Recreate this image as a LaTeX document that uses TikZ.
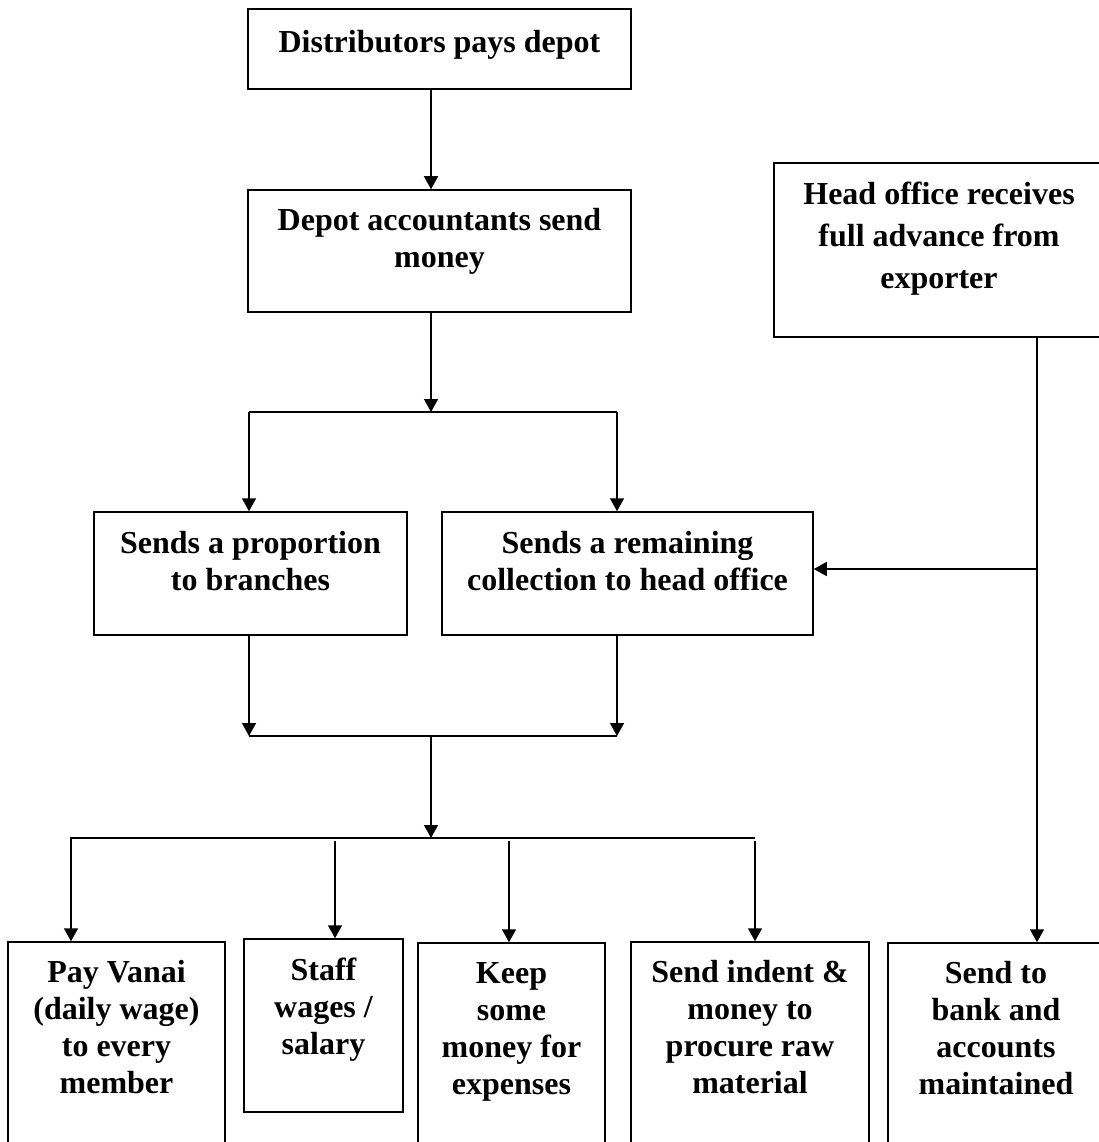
\documentclass[tikz,border=0pt]{standalone}
\usepackage{fontspec}
\setmainfont{Liberation Serif}
\usetikzlibrary{arrows.meta,calc}
\begin{document}
\begin{tikzpicture}[x=1pt,y=-1pt,
  box/.style={draw, rectangle, line width=1.5pt, inner sep=0pt},
  txt/.style={inner sep=0pt, align=center, anchor=north,
    font=\fontsize{32}{37}\selectfont\bfseries},
  txtwide/.style={inner sep=0pt, align=center, anchor=north,
    font=\fontsize{32}{42}\selectfont\bfseries},
  conn/.style={line width=1.5pt},
  arr/.style={line width=1.5pt, -{Triangle[length=13pt,width=14pt]}}]
\useasboundingbox (0,0) rectangle (1099,1142);

% boxes
\node[box, minimum width=383pt, minimum height=80pt]  (b1) at (439.5,49) {};
\node[box, minimum width=383pt, minimum height=122pt] (b2) at (439.5,251) {};
\node[box, minimum width=330pt, minimum height=174pt] (b3) at (939,250) {};
\node[box, minimum width=313pt, minimum height=123pt] (b4) at (250.5,573.5) {};
\node[box, minimum width=371pt, minimum height=123pt] (b5) at (627.5,573.5) {};
\node[box, minimum width=217pt, minimum height=218pt] (p1) at (116.5,1051) {};
\node[box, minimum width=159pt, minimum height=173pt] (p2) at (323.5,1025.5) {};
\node[box, minimum width=187pt, minimum height=217pt] (p3) at (511.5,1051.5) {};
\node[box, minimum width=238pt, minimum height=218pt] (p4) at (750,1051) {};
\node[box, minimum width=216pt, minimum height=217pt] (p5) at (996,1051.5) {};

% texts
\node[txt] (t1) at (439.5,26.1) {\strut Distributors pays depot};
\node[txt] (t2) at (439.5,204.1) {\strut Depot accountants send\\ money};
\node[txtwide] (t3) at (939,174.6) {\strut Head office receives\\ full advance from\\ exporter};
\node[txt] (t4) at (250.5,527.1) {\strut Sends a proportion\\ to branches};
\node[txt] (t5) at (627.5,527.1) {\strut Sends a remaining\\ collection to head office};
\node[txt] (tp1) at (116.5,956.1) {\strut Pay Vanai\\ (daily wage)\\ to every\\ member};
\node[txt] (tp2) at (323.5,954.1) {\strut Staff\\ wages /\\ salary};
\node[txt] (tp3) at (511.5,957.1) {\strut Keep\\ some\\ money for\\ expenses};
\node[txt] (tp4) at (750,956.1) {\strut Send indent \&\\ money to\\ procure raw\\ material};
\node[txt] (tp5) at (996,957.1) {\strut Send to\\ bank and\\ accounts\\ maintained};

% junction coordinates
\coordinate (s1)  at (431,412);
\coordinate (s1l) at (249,412);
\coordinate (s1r) at (617,412);
\coordinate (m1)  at (431,736);
\coordinate (m1l) at (249,736);
\coordinate (m1r) at (617,736);
\coordinate (d1)  at (431,838);
\coordinate (dl)  at (71,838);
\coordinate (dr)  at (755,838);
\coordinate (d2)  at (335,841);
\coordinate (d3)  at (509,841);
\coordinate (dr2) at (755,841);
\coordinate (h2)  at (1037,569);

% connectors
\draw[arr] (b1.south -| s1) -- (b2.north -| s1);
\draw[arr] (b2.south -| s1) -- (s1);
\draw[conn] (s1l) -- (s1r);
\draw[arr] (s1l) -- (b4.north -| s1l);
\draw[arr] (s1r) -- (b5.north -| s1r);
\draw[arr] (b4.south -| m1l) -- (m1l);
\draw[arr] (b5.south -| m1r) -- (m1r);
\draw[conn] (m1l) -- (m1r);
\draw[arr] (m1) -- (d1);
\draw[arr] (dr) -- (dl) -- (p1.north -| dl);
\draw[arr] (d2) -- (p2.north -| d2);
\draw[arr] (d3) -- (p3.north -| d3);
\draw[arr] (dr2) -- (p4.north -| dr2);
\draw[arr] (b3.south -| h2) -- (p5.north -| h2);
\draw[arr] (h2) -- (b5.east |- h2);
\end{tikzpicture}
\end{document}
